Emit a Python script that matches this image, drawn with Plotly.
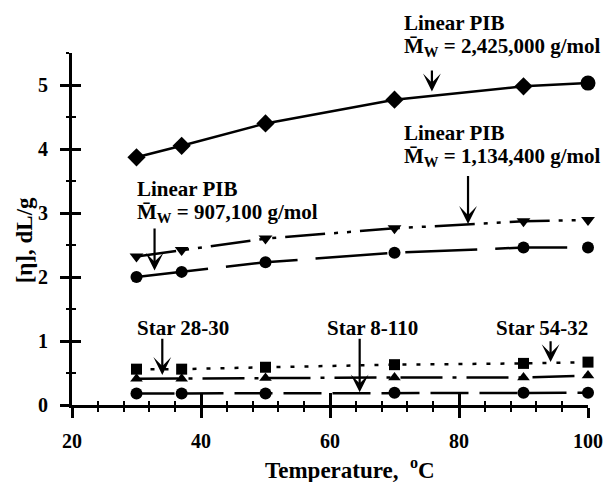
import plotly.graph_objects as go

# ---- data ----
temps = [30, 37, 50, 70, 90, 100]
lin_2425000 = [3.87, 4.05, 4.40, 4.77, 4.98, 5.03]
lin_1134400 = [2.32, 2.42, 2.60, 2.76, 2.87, 2.89]
lin_907100 = [2.00, 2.08, 2.23, 2.38, 2.46, 2.46]
star_54_32 = [0.56, 0.56, 0.59, 0.63, 0.65, 0.67]
star_28_30 = [0.41, 0.41, 0.42, 0.43, 0.43, 0.46]
star_8_110 = [0.18, 0.18, 0.18, 0.19, 0.19, 0.19]

x_ticks = [20, 40, 60, 80, 100]
y_ticks = [0, 1, 2, 3, 4, 5]

FONT = "Liberation Serif"
BLACK = "black"

fig = go.Figure()

def add(y, symbol, dash, size=11, width=2.5):
    fig.add_trace(go.Scatter(
        x=temps, y=y, mode="lines+markers", cliponaxis=False,
        line=dict(color=BLACK, width=width, dash=dash),
        marker=dict(symbol=symbol, size=size, color=BLACK, opacity=1,
                    line=dict(width=0)),
        showlegend=False))

add(lin_2425000, ["diamond"] * 5 + ["circle"], "solid",
    size=[14, 14, 14, 14, 14, 15], width=2.5)
add(lin_1134400, "triangle-down", "40px,9px,4px,9px,4px,9px", size=12)
add(lin_907100, "circle", "72px,18px", size=12)
add(star_54_32, "square", "4px,10px", size=11)
add(star_28_30, "triangle-up", "42px,10px,4px,10px", size=11)
add(star_8_110, "circle", "38px,11px", size=12)

# overlay axes carrying the inward half of the crossing ticks
fig.add_trace(go.Scatter(x=[], y=[], xaxis="x2", yaxis="y2", showlegend=False))

tickfont = dict(family=FONT, size=20, color=BLACK, weight="bold")

fig.update_layout(
    width=615, height=482,
    margin=dict(l=72, r=23, t=53, b=77),
    plot_bgcolor="white", paper_bgcolor="white",
    font=dict(family=FONT, size=20, color=BLACK, weight="bold"),
    xaxis=dict(range=[20, 100], tickvals=x_ticks, ticks="outside", ticklen=10,
               tickwidth=2.5, tickcolor=BLACK, showline=True, linewidth=3,
               linecolor=BLACK, showgrid=False, zeroline=False, tickfont=tickfont,
               minor=dict(ticks="outside", ticklen=4, tickwidth=2, dtick=4, tick0=20,
                          tickcolor=BLACK, showgrid=False),
               ticklabelstandoff=6),
    yaxis=dict(range=[0, 5.5], tickvals=y_ticks, ticks="outside", ticklen=9,
               tickwidth=2.5, tickcolor=BLACK, showline=True, linewidth=3,
               linecolor=BLACK, showgrid=False, zeroline=False, tickfont=tickfont,
               minor=dict(ticks="outside", ticklen=3, tickwidth=2, dtick=0.5, tick0=0,
                          tickcolor=BLACK, showgrid=False),
               ticklabelstandoff=8),
    xaxis2=dict(range=[20, 100], overlaying="x", anchor="y2", side="bottom",
                tickvals=x_ticks, ticks="inside", ticklen=12, tickwidth=2.5,
                tickcolor=BLACK, showticklabels=False, showline=False,
                showgrid=False, zeroline=False,
                minor=dict(ticks="inside", ticklen=4, tickwidth=2, dtick=4, tick0=20,
                           tickcolor=BLACK, showgrid=False)),
    yaxis2=dict(range=[0, 5.5], overlaying="y", anchor="x2", side="left",
                tickvals=y_ticks, ticks="inside", ticklen=9, tickwidth=2.5,
                tickcolor=BLACK, showticklabels=False, showline=False,
                showgrid=False, zeroline=False,
                minor=dict(ticks="inside", ticklen=4, tickwidth=2, dtick=0.5, tick0=0,
                           tickcolor=BLACK, showgrid=False)),
)


def paper_y(v):
    return v / 5.5


MBAR = "M\u0304<sub>W</sub>"
# two-line labels: (line1, line2, x, y of line1 in data units)
pib_labels = [
    ("Linear PIB", MBAR + " = 2,425,000 g/mol", 71.1, 5.97),
    ("Linear PIB", MBAR + " = 1,134,400 g/mol", 71.1, 4.25),
    ("Linear PIB", MBAR + " = 907,100 g/mol", 29.7, 3.38),
]
LINE_GAP = 0.38
for l1, l2, x, y in pib_labels:
    fig.add_annotation(x=x, y=paper_y(y), xref="x", yref="paper", text=l1,
                       showarrow=False, xanchor="left", yanchor="middle",
                       font=dict(family=FONT, size=21, color=BLACK, weight="bold"))
    fig.add_annotation(x=x, y=paper_y(y - LINE_GAP), xref="x", yref="paper", text=l2,
                       showarrow=False, xanchor="left", yanchor="middle",
                       font=dict(family=FONT, size=21, color=BLACK, weight="bold"))

star_labels = [
    ("Star 28-30", 29.7, 1.20),
    ("Star 8-110", 59.2, 1.20),
    ("Star 54-32", 85.5, 1.20),
]
for txt, x, y in star_labels:
    fig.add_annotation(x=x, y=y, xref="x", yref="y", text=txt, showarrow=False,
                       xanchor="left", yanchor="middle",
                       font=dict(family=FONT, size=21, color=BLACK, weight="bold"))

arrows = [
    # tip x, tip y, tail y
    (75.8, 4.90, 5.25),
    (81.4, 2.83, 3.60),
    (32.8, 2.10, 2.78),
    (34.0, 0.47, 1.06),
    (64.6, 0.20, 1.06),
    (94.2, 0.67, 1.02),
]
for x, y, ty in arrows:
    fig.add_annotation(x=x, y=y, ax=x, ay=ty, xref="x", yref="y", axref="x", ayref="y",
                       text="", showarrow=True, arrowhead=3, arrowsize=1.35,
                       arrowwidth=2.2, arrowcolor=BLACK)

# axis titles
fig.add_annotation(xref="paper", yref="paper", x=(352 - 72) / 520, y=-(468 - 405) / 352,
                   text="Temperature,  <sup>o</sup>C", showarrow=False,
                   xanchor="center", yanchor="middle",
                   font=dict(family=FONT, size=23, color=BLACK, weight="bold"))
fig.add_annotation(xref="paper", yref="paper", x=-(72 - 24) / 520, y=(405 - 240) / 352,
                   text="[\u03b7], dL/g", showarrow=False, textangle=-90,
                   xanchor="center", yanchor="middle",
                   font=dict(family=FONT, size=23, color=BLACK, weight="bold"))

fig.write_html("out.html")
